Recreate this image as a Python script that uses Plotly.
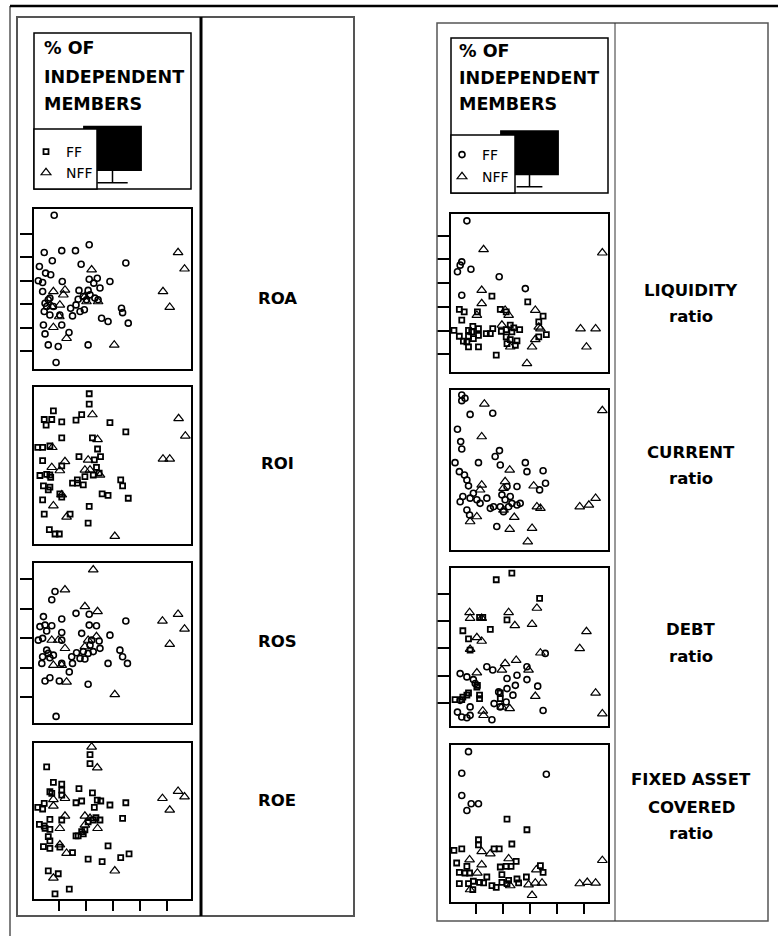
import plotly.graph_objects as go

# ---------------- data (x = % of independent members) ----------------
x_ticks = [10, 20, 30, 40, 50]
x_range = [0.6, 58.9]

# box plot of % of independent members (diagonal cell)
box_lowerfence = [4]
box_q1 = [12]
box_median = [25]
box_q3 = [40]
box_upperfence = [40]

roa_ff = [(8.1,38.0),(21.1,25.4),(4.4,22.1),(10.9,22.9),(16.0,22.9),(7.4,18.6),(2.6,16.1),(18.1,17.1),
          (34.7,17.6),(4.9,13.3),(6.8,12.6),(2.2,10.0),(3.8,9.3),(11.1,9.7),(21.1,10.7),(24.1,11.1),
          (22.8,9.0),(28.8,9.7),(3.8,5.4),(17.3,5.9),(20.7,5.9),(25.1,6.9),(5.9,1.9),(17.0,2.1),
          (23.2,2.6),(5.3,-1.0),(7.8,-1.0),(16.2,-0.3),(19.3,-2.4),(17.7,-3.1),(14.9,-5.0),(4.4,-3.1),
          (6.5,-4.6),(33.1,-1.7),(33.5,-3.6),(25.7,-6.0),(28.1,-7.4),(35.6,-8.1),(4.1,-8.9),(10.9,-8.9),
          (13.6,-12.1),(4.7,-12.7),(5.9,-17.4),(9.6,-18.1),(20.7,-17.4),(8.8,-24.9),(24.4,1.9),(20.1,1.9),
          (4.7,0.4),(10.2,-4.6),(18.9,3.3),(21.4,4.0),(6.5,2.6),(14.2,-1.7)]
roa_nff = [(22.0,14.7),(7.8,5.4),(12.1,6.1),(11.5,4.0),(10.2,-0.3),(19.5,3.3),(20.1,1.1),(24.4,1.1),
           (7.2,-1.0),(10.0,-5.3),(7.8,-9.9),(12.7,-14.6),(30.4,-17.4),(54.1,22.1),(56.5,15.1),
           (48.5,5.4),(51.0,-1.3)]
roa_ticks = [-20, -10, 0, 10, 20, 30]
roa_range = [-27.7, 40.7]

roi_ff = [(21.1,37.1),(21.1,32.6),(7.8,29.7),(18.3,28.1),(16.2,25.7),(4.4,26.0),(7.2,26.0),(5.1,23.6),
          (10.9,25.0),(28.8,24.7),(34.7,20.7),(10.9,18.1),(22.3,18.1),(2.0,14.0),(3.8,14.0),(6.5,14.6),
          (24.2,13.3),(17.3,10.0),(23.0,8.6),(25.3,10.0),(3.8,8.3),(10.9,6.0),(23.8,5.4),(2.8,1.9),
          (5.3,2.4),(6.8,1.1),(24.8,2.9),(19.5,1.4),(16.7,0.0),(14.9,-1.4),(16.7,-1.4),(18.9,-2.1),
          (32.8,0.0),(33.5,-2.6),(4.1,-2.6),(6.5,-3.1),(10.2,-6.0),(10.9,-7.4),(25.9,-6.0),(28.1,-6.7),
          (35.6,-7.9),(3.8,-8.6),(21.1,-11.4),(4.4,-14.7),(14.0,-14.7),(20.7,-18.6),(6.3,-21.4),
          (8.4,-23.3),(10.0,-23.3),(6.5,2.1),(22.6,2.1),(5.9,-4.3)]
roi_nff = [(22.3,28.1),(7.4,14.0),(24.2,17.4),(12.1,7.9),(7.2,5.4),(10.2,4.0),(20.7,8.6),(19.5,4.3),
           (25.1,2.1),(10.9,-6.4),(7.8,-11.1),(12.7,-16.0),(30.6,-24.3),(54.3,26.4),(56.8,18.9),
           (48.5,9.0),(51.0,9.0),(21.4,4.3)]
roi_range = [-27.6, 40.0]

ros_ff = [(8.4,25.9),(7.2,23.1),(16.2,18.5),(21.1,18.2),(4.1,17.4),(10.9,16.6),(2.8,14.0),(4.7,14.5),
          (7.2,14.3),(21.1,14.5),(23.8,14.3),(34.7,15.9),(5.3,12.5),(10.9,12.0),(18.3,11.7),(28.8,11.1),
          (2.2,9.4),(3.8,10.0),(10.9,9.4),(22.0,9.4),(24.8,9.1),(5.3,6.0),(25.1,6.6),(16.4,5.1),
          (18.9,5.5),(20.7,4.9),(22.6,5.5),(3.8,3.75),(6.5,3.4),(14.6,3.75),(17.7,3.2),(19.5,3.0),
          (32.5,6.0),(33.5,3.75),(35.3,1.5),(28.1,1.5),(3.5,1.5),(10.9,1.5),(14.9,1.5),(13.7,-1.4),
          (4.7,-4.5),(6.5,-3.4),(10.0,-4.5),(20.7,-5.6),(8.8,-16.5),(5.9,4.9),(7.8,4.3),(21.4,7.7)]
ros_nff = [(22.6,33.3),(12.1,26.5),(19.5,20.8),(24.2,19.1),(7.2,9.4),(9.6,9.4),(12.1,6.6),(20.7,9.4),
           (23.8,10.6),(7.8,0.9),(10.9,0.9),(19.5,7.2),(12.7,-4.8),(30.6,-9.1),(48.3,15.9),(54.1,18.2),
           (56.5,13.2),(51.0,8.0)]
ros_ticks = [-10, 0, 10, 20, 30]
ros_range = [-18.75, 35.6]

roe_ff = [(5.3,26.25),(21.4,30.9),(21.4,27.5),(7.8,20.4),(10.9,19.75),(10.9,17.5),(6.5,16.9),(7.2,16.25),
          (10.9,15.6),(17.3,18.1),(22.3,16.5),(16.2,12.75),(18.3,13.4),(24.1,13.75),(25.4,13.4),
          (28.8,11.9),(34.7,12.75),(2.0,11.0),(3.8,10.4),(4.4,12.5),(23.0,11.0),(10.9,6.25),(6.5,6.5),
          (23.6,7.1),(25.1,6.25),(33.5,6.9),(2.6,4.6),(4.4,4.0),(6.5,2.75),(20.7,5.6),(19.5,2.5),
          (18.9,1.0),(16.2,0.25),(17.0,0.25),(5.9,0.0),(6.5,-1.6),(4.1,-3.75),(6.5,-4.4),(10.2,-4.0),
          (14.9,-6.0),(28.1,-3.5),(32.8,-7.9),(35.9,-6.5),(20.7,-8.5),(25.9,-9.4),(5.9,-12.9),
          (9.6,-14.0),(13.7,-19.75),(8.4,-21.6),(4.7,3.1),(22.6,6.25),(18.3,1.9)]
roe_nff = [(22.0,33.75),(24.1,25.9),(7.8,14.0),(12.1,14.4),(7.8,11.5),(12.1,7.75),(19.5,7.75),(10.2,3.1),
           (19.5,4.4),(24.2,3.1),(10.2,-3.1),(12.7,-6.25),(7.8,-15.6),(30.6,-12.9),(48.3,14.4),
           (54.1,17.1),(56.5,15.0),(51.0,10.0),(21.4,6.9)]
roe_range = [-23.5, 35.25]

liq_ff_a = [(6.5,66.3),(4.6,49.0),(4.0,47.6),(3.0,44.8),(8.0,45.9),(18.5,42.7),(4.6,34.9),(28.2,37.7)]
liq_ff_b = [(15.8,34.5),(29.1,32.1),(3.7,28.9),(5.5,27.9),(10.4,27.9),(4.6,24.4),(18.9,28.9),(21.1,27.9),
            (34.8,26.1),(1.7,20.1),(3.7,17.6),(5.2,15.5),(7.1,20.1),(8.7,21.8),(10.8,20.8),(7.1,17.6),
            (8.9,16.6),(10.8,18.0),(7.1,13.1),(10.8,13.1),(13.7,18.7),(15.2,18.7),(16.1,20.8),(19.3,19.7),
            (21.1,20.4),(22.6,22.3),(23.9,21.1),(26.1,20.4),(21.1,17.3),(22.6,16.2),(25.1,15.6),
            (24.5,13.8),(21.4,14.5),(17.4,9.6),(33.2,17.3),(36.0,18.3),(33.2,23.7),(6.5,15.2),(23.2,19.4),
            (8.3,19.4)]
liq_nff = [(12.7,54.2),(12.0,37.0),(12.0,31.4),(10.2,26.5),(20.7,28.6),(22.0,26.5),(31.9,28.6),(33.2,21.5),
           (33.8,20.8),(31.9,16.2),(30.7,13.1),(19.5,22.3),(22.6,13.1),(28.8,6.1),(56.8,52.8),(48.7,20.8),
           (54.3,20.8),(50.9,13.1)]
liq_ticks = [10, 20, 30, 40, 50, 60]
liq_range = [2.5, 69.2]

cur_ff = [(4.6,69.7),(4.6,67.3),(5.8,68.3),(7.7,61.5),(16.1,62.0),(3.0,55.2),(4.2,50.0),(4.6,46.9),
          (18.6,46.2),(17.0,43.7),(2.1,41.1),(10.8,41.1),(18.9,40.1),(28.2,41.1),(28.8,37.3),(34.8,37.7),
          (3.7,37.3),(5.6,35.9),(6.5,33.8),(7.1,31.3),(21.4,31.0),(25.1,31.0),(35.7,32.4),(33.5,29.6),
          (4.0,24.6),(5.0,26.8),(7.7,26.1),(10.2,25.4),(11.4,23.9),(13.9,26.1),(6.5,21.1),(7.5,19.0),
          (15.2,21.8),(16.4,22.5),(19.5,27.5),(20.7,25.4),(22.6,26.8),(23.2,23.9),(25.1,23.2),(26.3,23.9),
          (20.1,20.4),(22.0,22.5),(17.6,14.1),(8.9,28.2),(18.9,22.5)]
cur_nff = [(13.0,65.9),(12.0,52.1),(56.8,63.1),(22.4,38.0),(12.0,31.7),(11.4,29.6),(20.7,33.1),(20.1,30.3),
           (31.3,31.3),(32.5,22.5),(33.8,21.8),(20.1,21.1),(24.1,18.0),(7.7,16.2),(10.2,18.3),(22.4,13.0),
           (30.7,13.4),(29.1,7.7),(48.4,22.5),(51.8,23.2),(54.3,26.1)]
cur_range = [4.2, 71.8]

debt_ff_a = [(4.0,20.7),(6.5,19.5),(8.9,18.5),(9.6,17.1),(13.9,23.2),(16.1,22.0),(21.4,18.9),(25.1,20.1),
             (28.8,18.5),(28.8,23.2),(24.5,16.4),(21.4,15.2),(23.6,12.8),(18.3,14.0),(16.6,9.7),(18.9,8.5),
             (21.1,10.3),(32.8,16.1),(34.8,7.2),(3.0,6.6),(4.6,4.8),(6.5,4.5),(7.7,5.4),(4.0,10.9),
             (15.8,3.8),(7.7,8.5),(35.6,28.1)]
debt_ff_b = [(23.2,57.5),(17.4,55.1),(33.5,48.3),(21.4,40.4),(11.2,41.3),(12.4,41.3),(5.0,36.4),(15.2,36.9),
             (7.1,33.4),(7.7,29.3),(10.4,16.4),(10.2,15.8),(7.1,13.6),(6.5,12.8),(5.0,12.1),(2.1,11.2),
             (4.6,11.2),(11.2,12.8),(11.2,11.5),(18.9,13.6),(18.9,11.5)]
debt_nff = [(7.5,43.1),(7.7,41.0),(12.0,41.0),(22.0,43.1),(24.3,38.3),(30.7,38.8),(32.5,44.7),(10.2,33.9),
            (12.0,32.6),(7.7,29.6),(33.8,28.3),(50.9,36.1),(48.4,29.9),(20.7,24.4),(24.8,25.6),(29.4,22.0),
            (19.5,22.0),(10.2,21.0),(31.9,12.4),(19.5,8.5),(22.4,7.9),(12.4,7.0),(12.7,5.4),(54.3,13.6),
            (56.8,6.0)]
debt_ticks = [10, 20, 30, 40, 50]
debt_range = [1.5, 59.4]

fix_ff_a = [(7.1,58.1),(4.6,50.0),(36.0,49.6),(4.6,41.6),(8.1,38.5),(10.8,38.5),(6.5,36.0)]
fix_ff_b = [(21.4,32.75),(28.8,28.75),(10.8,25.0),(10.8,23.1),(1.7,21.0),(4.6,21.6),(16.6,21.6),(18.5,21.6),
            (23.2,23.4),(2.7,16.25),(6.5,15.0),(18.9,14.75),(21.1,15.0),(22.9,15.0),(24.8,16.9),(3.7,12.75),
            (5.8,12.5),(7.5,12.5),(3.7,8.5),(7.1,8.5),(8.9,9.4),(11.2,9.0),(13.9,11.0),(15.8,7.75),
            (17.4,7.1),(19.5,11.9),(19.5,9.0),(22.0,9.75),(25.1,10.25),(25.7,8.75),(28.6,11.0),
            (33.8,15.25),(34.8,12.75),(8.7,6.25),(12.7,8.75),(21.4,8.5)]
fix_nff = [(7.5,17.5),(12.0,15.6),(12.0,20.6),(15.2,19.75),(22.0,17.9),(10.4,12.5),(7.7,6.25),(22.6,7.75),
           (29.4,8.1),(30.7,4.1),(32.3,13.75),(31.9,8.75),(34.4,8.75),(56.8,17.25),(48.4,8.5),(51.2,9.0),
           (54.3,8.75)]
fix_range = [1.6, 60.6]

# ---------------- layout geometry (pixels) ----------------
W, H = 778, 936
def fx(p): return p / W
def fy(p): return 1 - p / H

FONT = "DejaVu Sans"
SQ = dict(symbol="square-open", size=5, color="black", line=dict(width=1.8, color="black"))
CI = dict(symbol="circle-open", size=6, color="black", line=dict(width=1.6, color="black"))
TR = dict(symbol="triangle-up-open", size=8.5, color="black", line=dict(width=1.2, color="black"))

LCOL, RCOL = (34, 191), (451, 608)
panels = [
    dict(lab=["ROA"], laby=[298], col=LCOL, top=209, bot=369, yr=roa_range, yt=roa_ticks, xt=False,
         ff=[(roa_ff, CI)], nff=roa_nff),
    dict(lab=["ROI"], laby=[463], col=LCOL, top=387, bot=544, yr=roi_range, yt=None, xt=False,
         ff=[(roi_ff, SQ)], nff=roi_nff),
    dict(lab=["ROS"], laby=[641], col=LCOL, top=563, bot=723, yr=ros_range, yt=ros_ticks, xt=False,
         ff=[(ros_ff, CI)], nff=ros_nff),
    dict(lab=["ROE"], laby=[800], col=LCOL, top=743, bot=899, yr=roe_range, yt=None, xt=True,
         ff=[(roe_ff, SQ)], nff=roe_nff),
    dict(lab=["LIQUIDITY", "ratio"], laby=[290, 316], col=RCOL, top=214, bot=372, yr=liq_range,
         yt=liq_ticks, xt=False, ff=[(liq_ff_a, CI), (liq_ff_b, SQ)], nff=liq_nff),
    dict(lab=["CURRENT", "ratio"], laby=[452, 479], col=RCOL, top=390, bot=550, yr=cur_range,
         yt=None, xt=False, ff=[(cur_ff, CI)], nff=cur_nff),
    dict(lab=["DEBT", "ratio"], laby=[629, 656], col=RCOL, top=568, bot=726, yr=debt_range,
         yt=debt_ticks, xt=False, ff=[(debt_ff_a, CI), (debt_ff_b, SQ)], nff=debt_nff),
    dict(lab=["FIXED ASSET", "COVERED", "ratio"], laby=[779, 807, 833], col=RCOL, top=745, bot=902,
         yr=fix_range, yt=None, xt=True, ff=[(fix_ff_a, CI), (fix_ff_b, SQ)], nff=fix_nff),
]

fig = go.Figure()
layout = dict(width=W, height=H, margin=dict(l=0, r=0, t=0, b=0), paper_bgcolor="white",
              plot_bgcolor="white", showlegend=True)
annotations, shapes = [], []

# ---------------- diagonal cells: title + box plot ----------------
cells = [dict(x=(34, 191), y=(33, 189), tx=42, ty=[48, 77, 104], leg=(34, 129, 97, 189), ww=0.53),
         dict(x=(451, 608), y=(38, 193), tx=457, ty=[51, 78, 104], leg=(451, 135, 515, 193), ww=0.45)]
for i, c in enumerate(cells, start=1):
    xa, ya = ("xaxis" if i == 1 else f"xaxis{i}"), ("yaxis" if i == 1 else f"yaxis{i}")
    layout[xa] = dict(domain=[fx(c["x"][0]), fx(c["x"][1])], range=[-1, 1], visible=False,
                      anchor="y" if i == 1 else f"y{i}")
    layout[ya] = dict(domain=[fy(c["y"][1]), fy(c["y"][0])], range=[0, 100], visible=False,
                      anchor="x" if i == 1 else f"x{i}")
    fig.add_trace(go.Box(x=[0], q1=box_q1, median=box_median, q3=box_q3, lowerfence=box_lowerfence,
                         upperfence=box_upperfence, orientation="v", width=0.73, whiskerwidth=c["ww"],
                         fillcolor="black", line=dict(color="black", width=1.5), boxpoints=False,
                         showlegend=False, hoverinfo="skip",
                         xaxis="x" if i == 1 else f"x{i}", yaxis="y" if i == 1 else f"y{i}"))
    shapes.append(dict(type="rect", xref="paper", yref="paper", x0=fx(c["x"][0]), x1=fx(c["x"][1]),
                       y0=fy(c["y"][1]), y1=fy(c["y"][0]), line=dict(color="black", width=1.5)))
    l0, t0, r0, b0 = c["leg"]
    shapes.append(dict(type="rect", xref="paper", yref="paper", x0=fx(l0), x1=fx(r0), y0=fy(b0), y1=fy(t0),
                       fillcolor="white", line=dict(color="black", width=1.5), layer="above"))
    for txt, yy in zip(["% OF", "INDEPENDENT", "MEMBERS"], c["ty"]):
        annotations.append(dict(text=f"<b>{txt}</b>", xref="paper", yref="paper", x=fx(c["tx"]), y=fy(yy),
                                xanchor="left", yanchor="middle", showarrow=False,
                                font=dict(family=FONT, size=17.5, color="black")))

# ---------------- scatter panels ----------------
legend_map = {}
legend_map[(1, "ff")] = "legend"     # left FF (square)
legend_map[(0, "nff")] = "legend2"   # left NFF
legend_map[(5, "ff")] = "legend3"    # right FF (circle)
legend_map[(4, "nff")] = "legend4"   # right NFF

for k, p in enumerate(panels):
    n = k + 3
    xa, ya = f"xaxis{n}", f"yaxis{n}"
    layout[xa] = dict(domain=[fx(p["col"][0]), fx(p["col"][1])], range=x_range, anchor=f"y{n}",
                      showgrid=False, zeroline=False, showline=True, mirror=True, linecolor="black",
                      linewidth=1.5, showticklabels=False,
                      ticks="outside" if p["xt"] else "", tickvals=x_ticks if p["xt"] else [],
                      ticklen=10, tickwidth=1.5, tickcolor="black")
    layout[ya] = dict(domain=[fy(p["bot"]), fy(p["top"])], range=p["yr"], anchor=f"x{n}",
                      showgrid=False, zeroline=False, showline=True, mirror=True, linecolor="black",
                      linewidth=1.5, showticklabels=False,
                      ticks="outside" if p["yt"] else "", tickvals=p["yt"] if p["yt"] else [],
                      ticklen=12, tickwidth=1.5, tickcolor="black")
    for gi, (pts, mk) in enumerate(p["ff"]):
        lg = legend_map.get((k, "ff")) if gi == 0 else None
        fig.add_trace(go.Scatter(x=[a for a, b in pts], y=[b for a, b in pts], mode="markers", marker=mk,
                                 name="FF", showlegend=lg is not None, legend=lg or "legend",
                                 xaxis=f"x{n}", yaxis=f"y{n}", cliponaxis=False))
    lg = legend_map.get((k, "nff"))
    fig.add_trace(go.Scatter(x=[a for a, b in p["nff"]], y=[b for a, b in p["nff"]], mode="markers",
                             marker=TR, name="NFF", showlegend=lg is not None, legend=lg or "legend",
                             xaxis=f"x{n}", yaxis=f"y{n}", cliponaxis=False))
    lx = 277 if p["col"] == LCOL else 691
    for txt, yy in zip(p["lab"], p["laby"]):
        annotations.append(dict(text=f"<b>{txt}</b>", xref="paper", yref="paper", x=fx(lx), y=fy(yy),
                                xanchor="center", yanchor="middle", showarrow=False,
                                font=dict(family=FONT, size=16.5, color="black")))

leg_common = dict(bgcolor="rgba(0,0,0,0)", borderwidth=0, xanchor="left", yanchor="middle",
                  font=dict(family=FONT, size=14, color="#000000"), itemsizing="trace")
layout["legend"] = dict(leg_common, x=fx(26), y=fy(152))
layout["legend2"] = dict(leg_common, x=fx(26), y=fy(173))
layout["legend3"] = dict(leg_common, x=fx(442), y=fy(155))
layout["legend4"] = dict(leg_common, x=fx(442), y=fy(177))

# ---------------- frames ----------------
def line(x0, y0, x1, y1, color="black", width=1.0):
    shapes.append(dict(type="line", xref="paper", yref="paper", x0=fx(x0), y0=fy(y0), x1=fx(x1), y1=fy(y1),
                       line=dict(color=color, width=width)))

line(10, 6, 778, 6, width=2.5)
line(10, 6, 10, 936, width=1)
shapes.append(dict(type="rect", xref="paper", yref="paper", x0=fx(17), x1=fx(354), y0=fy(916), y1=fy(17),
                   line=dict(color="#555", width=2)))
line(201, 17, 201, 916, width=3)
shapes.append(dict(type="rect", xref="paper", yref="paper", x0=fx(437), x1=fx(768), y0=fy(921), y1=fy(23),
                   line=dict(color="#555", width=1.5)))
line(615, 23, 615, 921, color="#333", width=1)

layout["annotations"] = annotations
layout["shapes"] = shapes
fig.update_layout(**layout)
fig.write_html("out.html", config={"displayModeBar": False},
               post_script="document.body.style.margin='0';")
